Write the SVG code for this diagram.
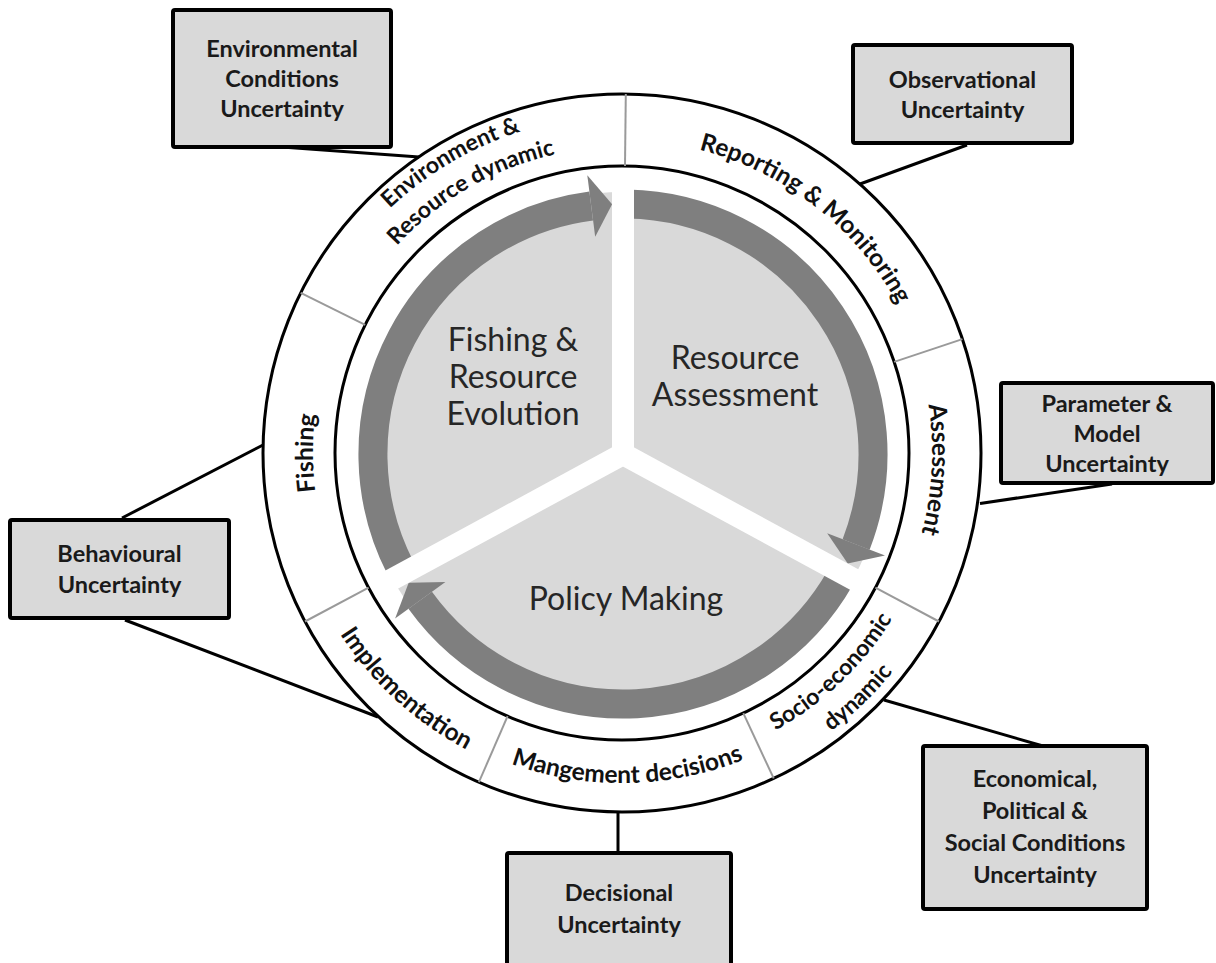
<svg xmlns="http://www.w3.org/2000/svg" width="1216" height="963" viewBox="0 0 1216 963">
<style>
  .ring { fill: none; stroke: #000; stroke-width: 3; }
  .div { stroke: #9a9a9a; stroke-width: 2; }
  .band { fill: none; stroke: #7f7f7f; stroke-width: 29; }
  .head { fill: #7f7f7f; }
  .bar { stroke: #fff; stroke-width: 22; }
  .conn { stroke: #000; stroke-width: 3; fill: none; }
  .box { fill: #d9d9d9; stroke: #000; stroke-width: 4; }
  .bt { font-family: Lato, "Open Sans", "Liberation Sans", sans-serif; font-weight: 700; font-size: 23.5px; fill: #1a1a1a; text-anchor: middle; }
  .rl { font-family: Lato, "Open Sans", "Liberation Sans", sans-serif; font-weight: 700; font-size: 24.5px; fill: #111; text-anchor: middle; }
  .rl2 { font-family: Lato, "Open Sans", "Liberation Sans", sans-serif; font-weight: 700; font-size: 23px; fill: #111; text-anchor: middle; }
  .pl { font-family: Lato, "Open Sans", "Liberation Sans", sans-serif; font-size: 32px; fill: #262626; text-anchor: middle; }
</style>
<defs>
  <path id="p-env1" d="M290.6 514.4 A337 337 0 0 1 836.4 193.0"/>
  <path id="p-env2" d="M320.6 506.1 A306 306 0 0 1 818.7 218.6"/>
  <path id="p-rep" d="M456.1 187.6 A313 313 0 0 1 919.7 549.7"/>
  <path id="p-ass" d="M743.1 167.6 A310 310 0 0 1 712.6 749.5"/>
  <path id="p-soc1" d="M481.5 737.2 A317 317 0 0 0 912.3 325.6"/>
  <path id="p-soc2" d="M469.4 765.8 A348 348 0 0 0 939.9 311.5"/>
  <path id="p-man" d="M313.9 571.3 A330 330 0 0 0 934.0 560.4"/>
  <path id="p-imp" d="M312.5 324.8 A335 335 0 0 0 776.7 750.1"/>
  <path id="p-fis" d="M516.3 743.4 A309 309 0 0 1 516.3 162.6"/>
</defs>

<g id="wheel">
  <circle cx="623" cy="454" r="262" fill="#d9d9d9"/>
  <g id="cycle-arrows">
    <path class="band" d="M400.2 567.5 A250 250 0 0 1 591.2 206.0"/>
    <polygon class="head" points="595.2,236.8 587.3,175.3 612.1,204.2"/>
    <path class="band" d="M627.4 204.0 A250 250 0 0 1 856.1 544.4"/>
    <polygon class="head" points="827.2,533.2 885.0,555.6 847.7,563.6"/>
    <path class="band" d="M840.6 577.1 A250 250 0 0 1 420.2 600.3"/>
    <polygon class="head" points="445.4,582.1 395.1,618.4 408.7,582.8"/>
  </g>
  <g id="separators">
    <line class="bar" x1="623" y1="454" x2="623" y2="176"/>
    <line class="bar" x1="623" y1="454" x2="867.3" y2="586.7"/>
    <line class="bar" x1="623" y1="454" x2="378.7" y2="586.7"/>
    <circle cx="623" cy="454" r="10" fill="#fff"/>
  </g>
  <text class="pl" x="513" y="351">Fishing &amp;</text>
  <text class="pl" x="513" y="388">Resource</text>
  <text class="pl" x="513" y="425">Evolution</text>
  <text class="pl" x="735" y="369">Resource</text>
  <text class="pl" x="735" y="406">Assessment</text>
  <text class="pl" x="626" y="610">Policy Making</text>
</g>

<g id="ring">
  <circle class="ring" cx="622" cy="453" r="359"/>
  <circle class="ring" cx="622" cy="453" r="287"/>
  <line class="div" x1="625.0" y1="166.0" x2="625.8" y2="94.0"/>
  <line class="div" x1="894.2" y1="361.9" x2="962.4" y2="339.1"/>
  <line class="div" x1="875.4" y1="587.7" x2="938.9" y2="621.5"/>
  <line class="div" x1="743.3" y1="713.1" x2="773.7" y2="778.4"/>
  <line class="div" x1="507.6" y1="716.2" x2="478.9" y2="782.2"/>
  <line class="div" x1="368.6" y1="587.7" x2="305.0" y2="621.5"/>
  <line class="div" x1="365.2" y1="324.9" x2="300.7" y2="292.8"/>
  <text class="rl2"><textPath href="#p-env1" startOffset="50%">Environment &amp;</textPath></text>
  <text class="rl2"><textPath href="#p-env2" startOffset="50%">Resource dynamic</textPath></text>
  <text class="rl"><textPath href="#p-rep" startOffset="50%">Reporting &amp; Monitoring</textPath></text>
  <text class="rl"><textPath href="#p-ass" startOffset="50%">Assessment</textPath></text>
  <text class="rl2"><textPath href="#p-soc1" startOffset="50%">Socio-economic</textPath></text>
  <text class="rl2"><textPath href="#p-soc2" startOffset="50%">dynamic</textPath></text>
  <text class="rl"><textPath href="#p-man" startOffset="50%">Mangement decisions</textPath></text>
  <text class="rl"><textPath href="#p-imp" startOffset="50%">Implementation</textPath></text>
  <text class="rl"><textPath href="#p-fis" startOffset="50%">Fishing</textPath></text>
</g>

<g id="connectors">
  <line class="conn" x1="282" y1="147" x2="419" y2="157"/>
  <line class="conn" x1="967" y1="145" x2="860" y2="184"/>
  <line class="conn" x1="1112" y1="484" x2="980" y2="503.5"/>
  <line class="conn" x1="122" y1="518" x2="263" y2="445"/>
  <line class="conn" x1="125" y1="620" x2="378" y2="717"/>
  <line class="conn" x1="1043" y1="746" x2="884" y2="700"/>
  <line class="conn" x1="618" y1="812" x2="618" y2="853"/>
</g>

<g id="box-environmental">
  <rect class="box" x="173" y="10" width="218" height="137" rx="2"/>
  <text class="bt" x="282" y="57">Environmental</text>
  <text class="bt" x="282" y="87">Conditions</text>
  <text class="bt" x="282" y="117">Uncertainty</text>
</g>
<g id="box-observational">
  <rect class="box" x="853" y="45" width="219" height="98" rx="2"/>
  <text class="bt" x="962.5" y="87.5">Observational</text>
  <text class="bt" x="962.5" y="117.5">Uncertainty</text>
</g>
<g id="box-parameter">
  <rect class="box" x="1001" y="383" width="212" height="100" rx="2"/>
  <text class="bt" x="1107" y="411.5">Parameter &amp;</text>
  <text class="bt" x="1107" y="441.5">Model</text>
  <text class="bt" x="1107" y="471.5">Uncertainty</text>
</g>
<g id="box-behavioural">
  <rect class="box" x="10" y="520" width="219" height="98" rx="2"/>
  <text class="bt" x="119.5" y="562">Behavioural</text>
  <text class="bt" x="119.5" y="593">Uncertainty</text>
</g>
<g id="box-economical">
  <rect class="box" x="923" y="746" width="224" height="163" rx="2"/>
  <text class="bt" x="1035" y="787">Economical,</text>
  <text class="bt" x="1035" y="819">Political &amp;</text>
  <text class="bt" x="1035" y="851">Social Conditions</text>
  <text class="bt" x="1035" y="883">Uncertainty</text>
</g>
<g id="box-decisional">
  <rect class="box" x="507" y="853" width="224" height="130" rx="2"/>
  <text class="bt" x="619" y="901">Decisional</text>
  <text class="bt" x="619" y="933">Uncertainty</text>
</g>
</svg>
